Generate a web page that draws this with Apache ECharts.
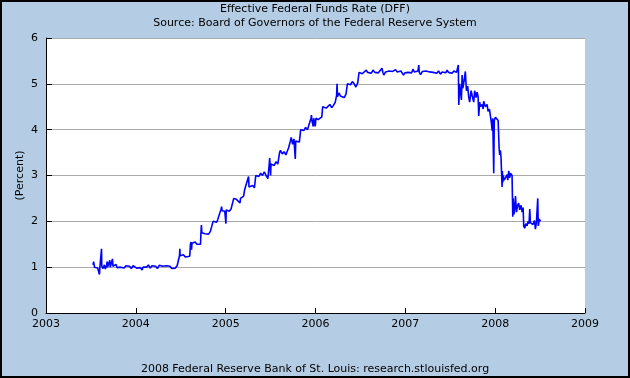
<!DOCTYPE html>
<html>
<head>
<meta charset="utf-8">
<script src="https://cdn.jsdelivr.net/npm/echarts@6/dist/echarts.min.js"></script>
<style>
  html, body { margin: 0; padding: 0; }
  #main { width: 630px; height: 378px; }
</style>
</head>
<body>
<div id="main"></div>
<script>
// x axis ticks (years) and y axis ticks (percent)
const yearTicks = [2003, 2004, 2005, 2006, 2007, 2008, 2009]
const rateTicks = [0, 1, 2, 3, 4, 5, 6]

// daily rate, [year, percent]
const rate2003 = [
  [2003.524, 1.05], [2003.53, 1.12], [2003.54, 1.0], [2003.56, 1.03], [2003.575, 0.98],
  [2003.59, 1.02], [2003.595, 0.84], [2003.60, 1.0], [2003.615, 1.03], [2003.618, 1.40],
  [2003.621, 1.02], [2003.635, 0.97], [2003.65, 1.05], [2003.66, 0.96], [2003.675, 1.04],
  [2003.68, 1.12], [2003.685, 1.0], [2003.70, 0.98], [2003.71, 1.15], [2003.715, 1.0],
  [2003.73, 1.03], [2003.74, 1.18], [2003.745, 1.02], [2003.76, 1.0], [2003.78, 1.06],
  [2003.79, 0.99], [2003.81, 1.02], [2003.83, 1.0], [2003.85, 1.04], [2003.87, 0.98],
  [2003.89, 1.03], [2003.91, 1.0], [2003.93, 1.02], [2003.95, 0.97], [2003.97, 1.03],
  [2003.99, 1.0]
]
const rate2004 = [
  [2004.01, 0.98], [2004.03, 1.02], [2004.05, 0.99], [2004.07, 0.94], [2004.08, 1.0],
  [2004.10, 1.03], [2004.12, 1.0], [2004.14, 1.05], [2004.16, 0.98], [2004.18, 1.03],
  [2004.20, 1.0], [2004.22, 1.02], [2004.24, 0.97], [2004.26, 1.04], [2004.28, 1.0],
  [2004.30, 1.02], [2004.32, 0.98], [2004.34, 1.03], [2004.36, 1.0], [2004.38, 1.02],
  [2004.40, 0.97], [2004.42, 1.01], [2004.44, 0.98], [2004.46, 1.03], [2004.48, 1.0],
  [2004.486, 1.25], [2004.49, 1.40], [2004.493, 1.25], [2004.51, 1.23], [2004.53, 1.27],
  [2004.55, 1.22], [2004.57, 1.26], [2004.60, 1.24], [2004.608, 1.5], [2004.615, 1.55],
  [2004.62, 1.38], [2004.625, 1.52], [2004.64, 1.48], [2004.66, 1.55], [2004.68, 1.5],
  [2004.70, 1.53], [2004.72, 1.5], [2004.725, 1.75], [2004.73, 1.92], [2004.735, 1.75],
  [2004.75, 1.77], [2004.77, 1.73], [2004.79, 1.76], [2004.81, 1.72], [2004.83, 1.78],
  [2004.85, 1.74], [2004.86, 2.0], [2004.88, 2.02], [2004.90, 1.98], [2004.91, 2.03],
  [2004.93, 2.0], [2004.946, 2.25], [2004.955, 2.32], [2004.96, 2.23], [2004.98, 2.27],
  [2004.99, 2.22]
]
const rate2005 = [
  [2005.0, 2.25], [2005.003, 1.95], [2005.006, 2.25], [2005.02, 2.28], [2005.04, 2.22],
  [2005.06, 2.27], [2005.08, 2.25], [2005.09, 2.5], [2005.10, 2.53], [2005.12, 2.48],
  [2005.14, 2.52], [2005.16, 2.4], [2005.165, 2.5], [2005.18, 2.5], [2005.20, 2.55],
  [2005.21, 2.68], [2005.22, 2.75], [2005.24, 2.77], [2005.255, 2.98], [2005.26, 2.75],
  [2005.28, 2.72], [2005.30, 2.78], [2005.32, 2.73], [2005.335, 3.0], [2005.35, 3.03],
  [2005.37, 2.98], [2005.39, 3.05], [2005.41, 3.0], [2005.43, 3.08], [2005.45, 3.0],
  [2005.47, 2.93], [2005.485, 3.25], [2005.49, 3.38], [2005.50, 3.0], [2005.505, 3.25],
  [2005.52, 3.27], [2005.54, 3.22], [2005.56, 3.3], [2005.58, 3.25], [2005.60, 3.5],
  [2005.61, 3.55], [2005.63, 3.47], [2005.65, 3.52], [2005.67, 3.45], [2005.69, 3.55],
  [2005.70, 3.6], [2005.72, 3.75], [2005.73, 3.83], [2005.745, 3.68], [2005.76, 3.8],
  [2005.775, 3.36], [2005.78, 3.75], [2005.80, 3.77], [2005.82, 3.73], [2005.835, 4.0],
  [2005.85, 4.03], [2005.87, 3.98], [2005.89, 4.05], [2005.91, 4.0], [2005.93, 4.02],
  [2005.95, 4.25], [2005.955, 4.32], [2005.96, 4.2], [2005.975, 4.07], [2005.98, 4.25],
  [2005.997, 4.07]
]
const rate2006 = [
  [2006.005, 4.25], [2006.01, 4.27], [2006.03, 4.22], [2006.05, 4.25], [2006.07, 4.28],
  [2006.08, 4.5], [2006.10, 4.52], [2006.12, 4.47], [2006.14, 4.5], [2006.16, 4.55],
  [2006.18, 4.48], [2006.20, 4.53], [2006.22, 4.6], [2006.235, 4.75], [2006.24, 5.0],
  [2006.245, 4.72], [2006.26, 4.8], [2006.28, 4.73], [2006.30, 4.77], [2006.32, 4.7],
  [2006.34, 4.78], [2006.355, 5.0], [2006.37, 5.03], [2006.39, 4.98], [2006.41, 5.05],
  [2006.43, 5.0], [2006.45, 4.93], [2006.47, 5.02], [2006.485, 5.25], [2006.50, 5.27],
  [2006.52, 5.22], [2006.54, 5.26], [2006.565, 5.3], [2006.58, 5.25], [2006.60, 5.27],
  [2006.62, 5.23], [2006.64, 5.3], [2006.66, 5.25], [2006.68, 5.27], [2006.70, 5.24],
  [2006.72, 5.28], [2006.74, 5.34], [2006.75, 5.25], [2006.76, 5.19], [2006.78, 5.26],
  [2006.80, 5.24], [2006.82, 5.28], [2006.84, 5.25], [2006.86, 5.27], [2006.88, 5.23],
  [2006.89, 5.31], [2006.91, 5.26], [2006.93, 5.24], [2006.95, 5.28], [2006.97, 5.25],
  [2006.98, 5.19], [2006.995, 5.24]
]
const rate2007 = [
  [2007.01, 5.27], [2007.03, 5.25], [2007.05, 5.28], [2007.07, 5.24], [2007.085, 5.32],
  [2007.10, 5.26], [2007.12, 5.24], [2007.14, 5.28], [2007.15, 5.41], [2007.155, 5.25],
  [2007.17, 5.2], [2007.19, 5.27], [2007.21, 5.25], [2007.23, 5.28], [2007.25, 5.24],
  [2007.27, 5.26], [2007.29, 5.3], [2007.31, 5.25], [2007.33, 5.27], [2007.35, 5.23],
  [2007.37, 5.28], [2007.39, 5.21], [2007.41, 5.26], [2007.43, 5.28], [2007.45, 5.24],
  [2007.465, 5.3], [2007.48, 5.25], [2007.50, 5.27], [2007.52, 5.23], [2007.54, 5.28],
  [2007.557, 5.31], [2007.57, 5.25], [2007.585, 5.28], [2007.59, 5.41], [2007.595, 4.54],
  [2007.605, 5.0], [2007.613, 5.0], [2007.624, 4.65], [2007.632, 5.19], [2007.64, 4.9],
  [2007.657, 5.1], [2007.668, 5.27], [2007.68, 4.85], [2007.694, 4.95], [2007.705, 4.72],
  [2007.716, 4.6], [2007.732, 4.85], [2007.743, 4.75], [2007.761, 4.6], [2007.772, 4.85],
  [2007.788, 4.7], [2007.799, 4.82], [2007.81, 4.72], [2007.817, 4.3], [2007.828, 4.6],
  [2007.836, 4.5], [2007.855, 4.55], [2007.866, 4.45], [2007.872, 4.62], [2007.891, 4.5],
  [2007.91, 4.55], [2007.921, 4.4], [2007.936, 4.45], [2007.947, 4.3], [2007.958, 4.15],
  [2007.966, 3.98], [2007.973, 4.25], [2007.984, 3.05], [2007.99, 4.2]
]
const rate2008 = [
  [2008.003, 4.27], [2008.02, 4.25], [2008.033, 4.2], [2008.044, 3.6], [2008.05, 3.45],
  [2008.058, 3.55], [2008.065, 3.4], [2008.077, 2.75], [2008.08, 3.1], [2008.085, 2.85],
  [2008.09, 3.0], [2008.1, 2.9], [2008.114, 2.95], [2008.133, 3.02], [2008.14, 2.9],
  [2008.151, 3.1], [2008.162, 2.95], [2008.17, 3.05], [2008.188, 3.0], [2008.196, 2.1],
  [2008.2, 2.5], [2008.21, 2.15], [2008.218, 2.3], [2008.226, 2.55], [2008.237, 2.2],
  [2008.25, 2.35], [2008.262, 2.4], [2008.273, 2.25], [2008.288, 2.35], [2008.3, 2.2],
  [2008.311, 2.3], [2008.318, 1.9], [2008.329, 1.85], [2008.34, 1.95], [2008.355, 1.9],
  [2008.366, 2.0], [2008.377, 1.95], [2008.385, 2.27], [2008.392, 1.97], [2008.407, 2.0],
  [2008.42, 1.93], [2008.437, 2.02], [2008.448, 1.83], [2008.459, 1.97], [2008.474, 2.5],
  [2008.48, 1.9], [2008.492, 2.05], [2008.504, 2.0]
]

const rateData = [].concat(rate2003, rate2004, rate2005, rate2006, rate2007, rate2008)

let chart = echarts.init(document.getElementById('main'))
let font = 'DejaVu Sans'

chart.setOption({
  animation: false,
  backgroundColor: '#b4cde4',
  textStyle: { fontFamily: font, color: '#000' },
  title: [
    // two-line heading
    {
      text: 'Effective Federal Funds Rate (DFF)',
      subtext: 'Source: Board of Governors of the Federal Reserve System',
      left: 'center',
      top: 2,
      padding: 0,
      itemGap: 0,
      textStyle: { fontFamily: font, fontSize: 11, fontWeight: 'normal', color: '#000', lineHeight: 14 },
      subtextStyle: { fontFamily: font, fontSize: 11, color: '#000', lineHeight: 14 }
    },
    // footer
    {
      text: '2008 Federal Reserve Bank of St. Louis: research.stlouisfed.org',
      left: 'center',
      top: 362,
      padding: 0,
      textStyle: { fontFamily: font, fontSize: 11, fontWeight: 'normal', color: '#000', lineHeight: 14 }
    }
  ],
  graphic: [
    {
      type: 'rect',
      shape: { x: 1, y: 1, width: 628, height: 376 },
      style: { fill: 'none', stroke: '#000', lineWidth: 2 },
      silent: true
    }
  ],
  grid: {
    left: 46,
    right: 45,
    top: 38,
    bottom: 65,
    show: true,
    backgroundColor: '#fff',
    borderWidth: 0
  },
  xAxis: {
    type: 'value',
    min: yearTicks[0],
    max: yearTicks[yearTicks.length - 1],
    interval: 1,
    axisLine: { lineStyle: { color: '#000', width: 1 } },
    axisTick: { inside: true, length: 5, lineStyle: { color: '#000' } },
    axisLabel: { margin: 6, fontSize: 11, color: '#000', fontFamily: font, formatter: v => String(v) },
    splitLine: { show: false }
  },
  yAxis: {
    type: 'value',
    min: rateTicks[0],
    max: rateTicks[rateTicks.length - 1],
    interval: 1,
    name: '(Percent)',
    nameLocation: 'middle',
    nameGap: 20,
    nameMoveOverlap: false,
    nameTextStyle: { fontSize: 11, color: '#000', fontFamily: font },
    axisLine: { show: true, lineStyle: { color: '#000', width: 1 } },
    axisTick: { show: true, inside: true, length: 6, lineStyle: { color: '#000' } },
    axisLabel: { margin: 8, fontSize: 11, color: '#000', fontFamily: font },
    splitLine: { show: true, lineStyle: { color: '#aaaaaa', width: 1 } }
  },
  series: [
    {
      name: 'DFF',
      type: 'line',
      data: rateData,
      showSymbol: false,
      lineStyle: { color: '#0000ff', width: 1.6 },
      z: 3
    }
  ]
})
</script>
</body>
</html>
